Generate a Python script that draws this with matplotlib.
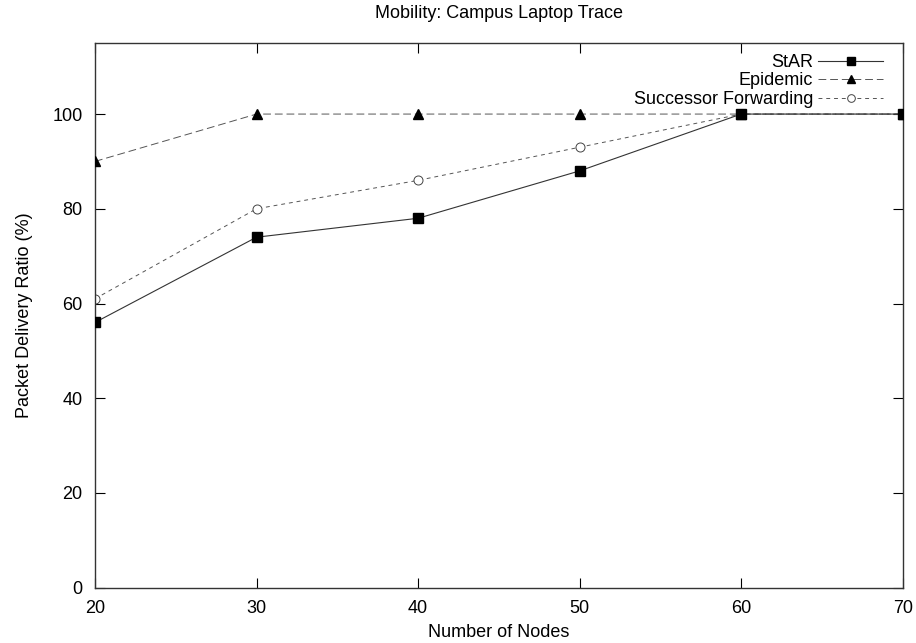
import matplotlib
matplotlib.use("Agg")
import matplotlib.pyplot as plt

plt.rcParams["font.family"] = ["Liberation Sans", "DejaVu Sans"]

nodes = [20, 30, 40, 50, 60, 70]
star = [56, 74, 78, 88, 100, 100]
epidemic = [90, 100, 100, 100, 100, 100]
successor = [61, 80, 86, 93, 100, 100]

fig = plt.figure(figsize=(9.16, 6.43), dpi=100)
ax = fig.add_axes([0.1037, 0.086, 0.8818, 0.8471])

ax.plot(nodes, successor, color="#555555", lw=0.7, ls=(0, (4, 4)), marker="o",
        ms=6.5, mfc="white", mec="#444444", mew=0.7, label="Successor Forwarding", zorder=2)
ax.plot(nodes, epidemic, color="#555555", lw=0.7, ls=(0, (8, 4)), marker="^",
        ms=6.5, mfc="black", mec="black", label="Epidemic", zorder=3)
ax.plot(nodes, star, color="#333333", lw=0.8, ls="-", marker="s",
        ms=7, mfc="black", mec="black", label="StAR", zorder=4)

ax.set_xlim(20, 70)
ax.set_ylim(0, 115)
ax.set_xticks(nodes)
ax.set_yticks([0, 20, 40, 60, 80, 100])
ax.tick_params(direction="in", length=7, width=0.8, labelsize=13, top=True, right=True)
ax.tick_params(axis="y", pad=9)
ax.tick_params(axis="x", pad=9)
for s in ax.spines.values():
    s.set_linewidth(1.0)
    s.set_color("#333333")

ax.set_xlabel("Number of Nodes", fontsize=13, labelpad=5)
ax.set_ylabel("Packet Delivery Ratio (%)", fontsize=13, labelpad=14)
fig.text(0.545, 0.979, "Mobility: Campus Laptop Trace", ha="center", va="center", fontsize=13)

h, l = ax.get_legend_handles_labels()
leg = ax.legend(h[::-1], l[::-1], loc="upper right", frameon=False, markerfirst=False,
                fontsize=13, handlelength=3.6, labelspacing=0.08, borderaxespad=0.0,
                handletextpad=0.3, bbox_to_anchor=(0.985, 0.993), markerscale=0.85)

fig.savefig("out.png", dpi=100)
